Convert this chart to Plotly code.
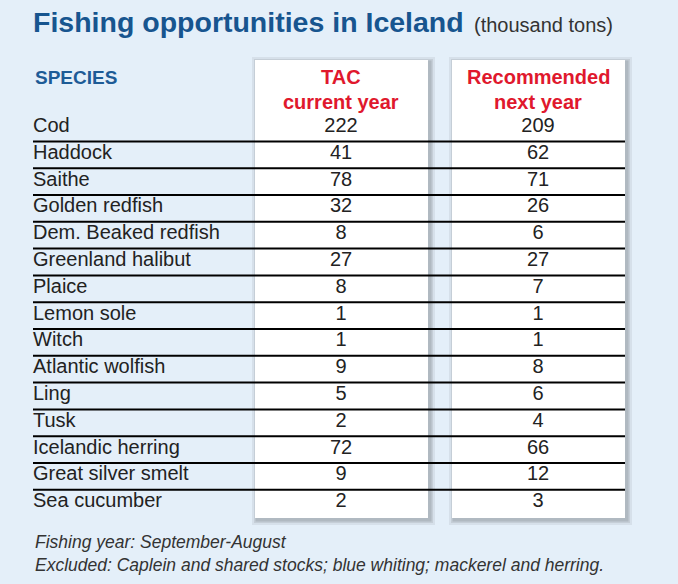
import plotly.graph_objects as go

species = ["Cod","Haddock","Saithe","Golden redfish","Dem. Beaked redfish","Greenland halibut",
           "Plaice","Lemon sole","Witch","Atlantic wolfish","Ling","Tusk","Icelandic herring",
           "Great silver smelt","Sea cucumber"]
tac_current = [222,41,78,32,8,27,8,1,1,9,5,2,72,9,2]
recommended = [209,62,71,26,6,27,7,1,1,8,6,4,66,12,3]

W, H = 678, 584
y0, dy = 127, 26.8
ys = [y0 + i*dy for i in range(len(species))]
FONT = "Liberation Sans, sans-serif"
c1, c2 = 341, 538

fig = go.Figure()
shapes = []
for xa, xb in [(255, 428), (452, 625)]:
    for k, op in [(5, 0.06), (3, 0.08), (1.5, 0.1)]:
        shapes.append(dict(type="rect", xref="x", yref="y", x0=xa-k+2, x1=xb+k+2, y0=60-k+2, y1=518+k+2,
                           fillcolor=f"rgba(0,0,0,{op})", line_width=0, layer="below"))
    shapes.append(dict(type="rect", xref="x", yref="y", x0=xa, x1=xb, y0=60, y1=518,
                       fillcolor="white", line_width=0, layer="below"))
for i in range(len(species)-1):
    yl = ys[i] + dy/2 + 1
    shapes.append(dict(type="line", xref="x", yref="y", x0=33, x1=625, y0=yl, y1=yl,
                       line=dict(color="black", width=2)))

TS = 20
fig.add_trace(go.Scatter(x=[33]*len(species), y=ys, text=species, mode="text", textposition="middle right",
                         textfont=dict(size=TS, color="#222", family=FONT), hoverinfo="skip"))
fig.add_trace(go.Scatter(x=[c1]*len(species), y=ys, text=[str(v) for v in tac_current], mode="text",
                         textfont=dict(size=TS, color="#222", family=FONT), hoverinfo="skip"))
fig.add_trace(go.Scatter(x=[c2]*len(species), y=ys, text=[str(v) for v in recommended], mode="text",
                         textfont=dict(size=TS, color="#222", family=FONT), hoverinfo="skip"))

RED = "#e0182d"
ann = [
    dict(x=31, y=22, text="<b>Fishing opportunities in Iceland</b>", xanchor="left",
         font=dict(size=28.5, color="#17558f", family=FONT)),
    dict(x=472, y=25, text="(thousand tons)", xanchor="left", font=dict(size=20, color="#333", family=FONT)),
    dict(x=33, y=77, text="<b>SPECIES</b>", xanchor="left", font=dict(size=19, color="#1d5b96", family=FONT)),
    dict(x=c1, y=77, text="<b>TAC</b>", font=dict(size=20, color=RED, family=FONT)),
    dict(x=c1, y=102, text="<b>current year</b>", font=dict(size=20, color=RED, family=FONT)),
    dict(x=c2, y=77, text="<b>Recommended</b>", font=dict(size=20, color=RED, family=FONT)),
    dict(x=c2, y=102, text="<b>next year</b>", font=dict(size=20, color=RED, family=FONT)),
    dict(x=33, y=542, text="<i>Fishing year: September-August</i>", xanchor="left",
         font=dict(size=17.5, color="#333", family=FONT)),
    dict(x=33, y=565, text="<i>Excluded: Caplein and shared stocks; blue whiting; mackerel and herring.</i>",
         xanchor="left", font=dict(size=17.5, color="#333", family=FONT)),
]
for a in ann:
    a.update(xref="x", yref="y", showarrow=False, yanchor="middle")

fig.update_layout(width=W, height=H, margin=dict(l=0, r=0, t=0, b=0),
                  paper_bgcolor="#e4eff9", plot_bgcolor="#e4eff9", showlegend=False,
                  shapes=shapes, annotations=ann,
                  xaxis=dict(range=[0, W], visible=False, fixedrange=True),
                  yaxis=dict(range=[H, 0], visible=False, fixedrange=True))
fig.write_html("out.html", config={"displayModeBar": False},
               post_script="document.body.style.margin='0';document.body.style.overflow='hidden';document.body.style.background='#e4eff9';")
